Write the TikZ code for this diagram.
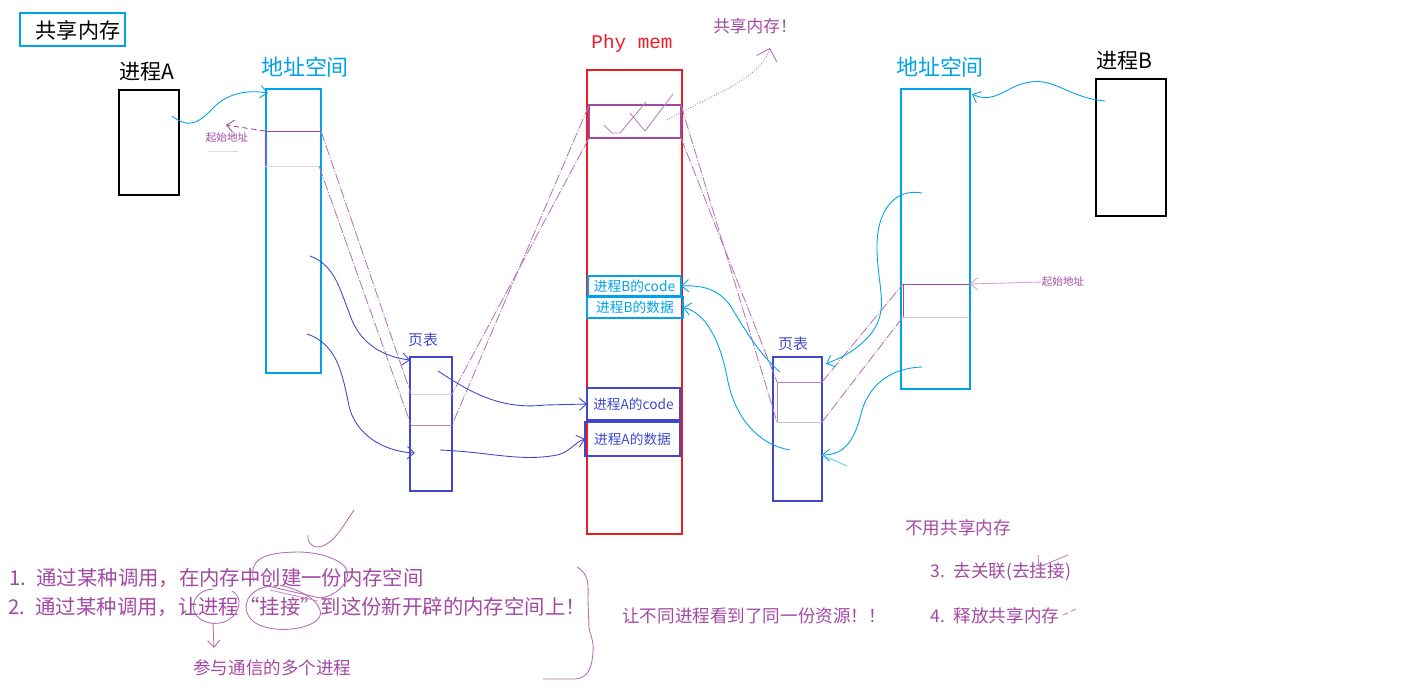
\documentclass[tikz,border=0pt]{standalone}
\usepackage{fontspec}
\newfontfamily\cjk{Noto Sans CJK SC}
\setmonofont{Liberation Mono}
\usepackage{tikz}
\usetikzlibrary{arrows.meta}
\definecolor{memred}{RGB}{237,28,36}
\definecolor{addrcyan}{RGB}{0,162,232}
\definecolor{tblblue}{RGB}{63,72,204}
\definecolor{shmpurple}{RGB}{163,73,164}

\begin{document}
\begin{tikzpicture}[x=0.02cm,y=-0.02cm,
        box/.style={draw,inner sep=0pt,outer sep=0pt,line width=1.6pt},
        lbl/.style={inner sep=0pt,font=\cjk\fontsize{#1}{#1}\selectfont},
        hand/.style={line width=0.5pt},
        barb/.style={-{Straight Barb[length=4pt,width=7pt]}},
        hop/.style={line width=0.5pt,draw=shmpurple!75,dash pattern=on 6pt off 1pt on 0.6pt off 1pt}]
        \useasboundingbox (0,0) rectangle (1403,698);

        \node[box,draw=addrcyan,minimum width=2.1cm,minimum height=0.66cm] (title) at (72.5,29.5) {};
        \node[lbl=12] (titletxt) at (78,30) {共享内存};

        \node[box,draw=black,line width=1.4pt,minimum width=1.2cm,minimum height=2.1cm] (procA) at (149,142.5) {};
        \node[lbl=12] (procAlbl) at (147,72) {进程A};
        \node[box,draw=addrcyan,minimum width=1.1cm,minimum height=5.68cm] (addrA) at (293.5,231) {};
        \node[lbl=12.5,text=addrcyan] (addrAlbl) at (305,67) {地址空间};
        \node[box,draw=tblblue,minimum width=0.84cm,minimum height=2.68cm] (ptA) at (431,424) {};
        \node[lbl=8.5,text=tblblue] (ptAlbl) at (423,340) {页表};

        \node[box,draw=memred,line width=1.2pt,minimum width=1.9cm,minimum height=9.28cm] (phymem) at (634.5,302) {};
        \node[inner sep=0pt,text=memred,font=\ttfamily\fontsize{11}{11}\selectfont] (phylbl) at (632,43) {Phy mem};
        \node[box,draw=shmpurple,minimum width=1.84cm,minimum height=0.66cm] (shm) at (635,121.5) {};
        \node[lbl=9.5,text=shmpurple] (shmlbl) at (755,26) {共享内存！};
        \node[box,draw=addrcyan,line width=1.4pt,minimum width=1.86cm,minimum height=0.4cm,lbl=7.8,text=addrcyan] (bcode) at (634.5,286) {进程B的code};
        \node[box,draw=addrcyan,line width=1.4pt,minimum width=1.92cm,minimum height=0.42cm,lbl=7.8,text=addrcyan] (bdata) at (635,307.5) {进程B的数据};
        \node[box,draw=tblblue,line width=1.4pt,minimum width=1.86cm,minimum height=0.64cm,lbl=7.8,text=tblblue] (acode) at (633.5,404) {进程A的code};
        \node[box,draw=tblblue,line width=1.4pt,minimum width=1.9cm,minimum height=0.68cm,lbl=7.8,text=tblblue] (adata) at (632.5,439) {进程A的数据};

        \node[box,draw=tblblue,minimum width=0.98cm,minimum height=2.88cm] (ptB) at (797.5,429) {};
        \node[lbl=8.5,text=tblblue] (ptBlbl) at (793,344) {页表};
        \node[box,draw=addrcyan,minimum width=1.38cm,minimum height=6cm] (addrB) at (935.5,239) {};
        \node[lbl=12.5,text=addrcyan] (addrBlbl) at (940,67) {地址空间};
        \node[box,draw=black,line width=1.4pt,minimum width=1.4cm,minimum height=2.74cm] (procB) at (1131,147.5) {};
        \node[lbl=12] (procBlbl) at (1124,61) {进程B};

        \node[lbl=6,text=shmpurple] (startAlbl) at (227,138) {起始地址};
        \node[lbl=6,text=shmpurple] (startBlbl) at (1063,282) {起始地址};

        \coordinate (segAtl) at (265,131);
        \coordinate (segAtr) at (321,131);
        \coordinate (segAbl) at (265,166);
        \coordinate (segAbr) at (319,166);
        \coordinate (tAtl) at (411,394);
        \coordinate (tAtr) at (452,394);
        \coordinate (tAbl) at (411,425);
        \coordinate (tAbr) at (452,425);
        \coordinate (tBtl) at (777,382);
        \coordinate (tBtr) at (822,382);
        \coordinate (tBbl) at (777,422);
        \coordinate (tBbr) at (822,422);
        \coordinate (segBtl) at (903,284);
        \coordinate (segBtr) at (970,284);
        \coordinate (segBbl) at (903,317);
        \coordinate (segBbr) at (969,317);

        \draw[hand,shmpurple] (segAbl) -- (segAtl) -- (segAtr);
        \draw[hand,shmpurple!25] (segAbl) -- (segAbr);
        \draw[hand,shmpurple!30] (tAtl) -- (tAtr);
        \draw[hand,shmpurple!70] (tAbl) -- (tAbr);
        \draw[hand,shmpurple!70] (tBbl) -- (tBtl) -- (tBtr);
        \draw[hand,shmpurple!40] (tBbl) -- (tBbr);
        \draw[hand,shmpurple] (segBbl) -- (segBtl) -- (segBtr);
        \draw[hand,shmpurple!35] (segBbl) -- (segBbr);

        \draw[hop] (segAtr) -- (tAtl);
        \draw[hop] (segAbr) -- (tAbl);
        \draw[hop] (shm.north west) -- (tAbr);
        \draw[hop] (shm.south west) -- (tAtr);
        \draw[hop] (shm.north east) -- (tBbl);
        \draw[hop] (shm.south east) -- (tBtl);
        \draw[hop] (tBtr) -- (segBtl);
        \draw[hop] (tBbr) -- (segBbl);

        \coordinate (aOut) at (172,116);
        \coordinate (aIn) at (268,93);
        \coordinate (bOut) at (1105,101);
        \coordinate (bIn) at (972,94);
        \draw[hand,addrcyan,barb] (aOut) .. controls (190,130) and (200,122) .. (215,106) .. controls (230,92) and (250,90) .. (aIn);
        \draw[hand,addrcyan,barb] (bOut) .. controls (1070,98) and (1055,78) .. (1030,82) .. controls (1005,86) and (995,105) .. (bIn);

        \coordinate (abOut1) at (922,193);
        \coordinate (tBin1) at (826,364);
        \coordinate (abOut2) at (922,367);
        \coordinate (tBin2) at (822,455);
        \coordinate (tBout1) at (780,372);
        \coordinate (tBout2) at (790,450);
        \draw[hand,addrcyan,barb] (abOut1) .. controls (895,188) and (876,210) .. (877,250) .. controls (878,290) and (890,310) .. (870,335) .. controls (855,352) and (840,358) .. (tBin1);
        \draw[hand,addrcyan,barb] (abOut2) .. controls (890,368) and (870,385) .. (862,410) .. controls (855,440) and (845,455) .. (tBin2);
        \draw[hand,addrcyan!60] (tBin2) -- (847,466);
        \draw[hand,addrcyan,barb] (tBout1) .. controls (760,355) and (745,330) .. (730,305) .. controls (718,290) and (705,285) .. (bcode.east);
        \draw[hand,addrcyan,barb] (tBout2) .. controls (760,445) and (735,420) .. (727,377) .. controls (720,340) and (705,312) .. (bdata.east);

        \coordinate (aaOut1) at (310,256);
        \coordinate (tAin1) at (410,360);
        \coordinate (aaOut2) at (307,334);
        \coordinate (tAin2) at (415,453);
        \coordinate (tAout1) at (438,371);
        \coordinate (tAout2) at (440,450);
        \draw[hand,tblblue,barb] (aaOut1) .. controls (335,265) and (340,290) .. (350,315) .. controls (360,345) and (385,357) .. (tAin1);
        \draw[hand,tblblue,barb] (aaOut2) .. controls (340,345) and (343,380) .. (350,410) .. controls (360,440) and (390,452) .. (tAin2);
        \draw[hand,tblblue,barb] (tAout1) .. controls (470,392) and (500,410) .. (545,405) -- (acode.west);
        \draw[hand,tblblue,barb] (tAout2) .. controls (490,452) and (520,462) .. (557,455) .. controls (570,452) and (575,442) .. (adata.west);

        \coordinate (startAtip) at (226,125);
        \draw[hand,shmpurple,densely dashed,barb] (segAtl) -- (startAtip);
        \draw[hand,shmpurple!25] (208,151) -- (238,151);
        \draw[hand,shmpurple!50,barb] (startBlbl.west) -- (segBtr);

        \coordinate (shmOut) at (667,120);
        \coordinate (shmTip) at (770,48);
        \draw[hand,shmpurple!80,densely dotted,-{Straight Barb[length=6pt,width=12pt]}] (shmOut) .. controls (710,95) and (760,80) .. (shmTip);
        \draw[hand,shmpurple!70] (604,125) -- (612,133) -- (620,133) -- (646,102);
        \draw[hand,shmpurple!70] (630,113) -- (645,131) -- (673,94);

        \node[lbl=11.6,text=shmpurple,anchor=west] (step1) at (9,578) {1.\enspace 通过某种调用，在内存中创建一份内存空间};
        \node[lbl=11.6,text=shmpurple,anchor=west] (step2) at (8,607) {2.\enspace 通过某种调用，让进程“挂接”到这份新开辟的内存空间上！};
        \node[lbl=10,text=shmpurple,anchor=west] (joinlbl) at (193,668) {参与通信的多个进程};
        \node[lbl=10,text=shmpurple,anchor=west] (samelbl) at (622,616) {让不同进程看到了同一份资源！！};
        \node[lbl=10,text=shmpurple,anchor=west] (nouselbl) at (905,528) {不用共享内存};
        \node[lbl=10,text=shmpurple,anchor=west] (step3) at (930,572) {3.\enspace 去关联(去挂接)};
        \node[lbl=10,text=shmpurple,anchor=west] (step4) at (930,616) {4.\enspace 释放共享内存};

        \draw[hand,shmpurple!80] (213,589) .. controls (190,590) and (185,618) .. (210,623) .. controls (235,627) and (248,600) .. (232,591);
        \draw[hand,shmpurple!80] (270,586) .. controls (240,590) and (238,620) .. (265,627) .. controls (290,634) and (325,625) .. (320,610) .. controls (316,598) and (300,590) .. (280,585);
        \draw[hand,shmpurple!80] (254,582) .. controls (248,560) and (262,552) .. (300,552) .. controls (330,553) and (352,565) .. (347,578) .. controls (343,590) and (330,597) .. (320,598) -- (268,586);
        \draw[hand,shmpurple!60] (270,590) -- (318,601);
        \coordinate (joinTip) at (214,648);
        \draw[hand,shmpurple!80,barb] (213,623) -- (joinTip);
        \draw[hand,shmpurple!80] (354,510) .. controls (342,528) and (332,546) .. (318,547) .. controls (310,547) and (307,540) .. (308,535);
        \draw[hand,shmpurple!80] (577,567) .. controls (590,575) and (588,585) .. (588,600) -- (589,628) .. controls (590,635) and (594,640) .. (593,652) .. controls (592,668) and (588,678) .. (575,679) -- (543,679);
        \draw[hand,shmpurple!70] (1038,555) -- (1039,567) -- (1068,555);
        \draw[hand,shmpurple!70,densely dashed] (1063,615) -- (1076,609);
      \end{tikzpicture}
\end{document}
